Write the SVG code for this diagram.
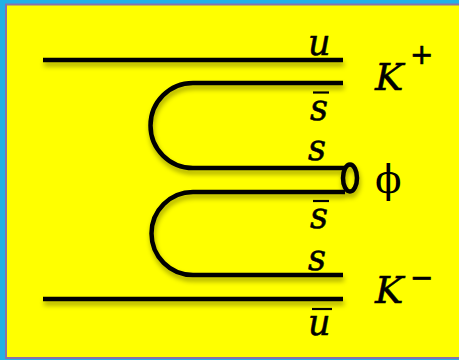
<svg xmlns="http://www.w3.org/2000/svg" width="459" height="360" viewBox="0 0 459 360">
<defs>
<filter id="sh" x="-10%" y="-50%" width="120%" height="200%">
<feDropShadow dx="1" dy="4" stdDeviation="2.5" flood-color="#000" flood-opacity="0.35"/>
</filter>
</defs>
<style>
.q{fill:none;stroke:#000;stroke-width:4.5;stroke-linecap:butt}
.m{font-family:"DejaVu Serif","Liberation Serif",serif;font-style:italic;font-size:35px;fill:#000;stroke:#000;stroke-width:0.5}
.k{font-size:38px}
.up{font-family:"DejaVu Sans","Liberation Sans",sans-serif;font-size:28px;fill:#000;stroke:#000;stroke-width:0.6}
.phi{font-family:"DejaVu Serif","Liberation Serif",serif;font-size:39px;fill:#000}
</style>
<rect x="0" y="0" width="459" height="360" fill="#22b0e6"/>
<rect x="6" y="4.5" width="460" height="353.5" fill="#ffff00" stroke="#8a72a8" stroke-width="2"/>
<g id="connectors" filter="url(#sh)">
<path class="q" d="M43 60H343"/>
<path class="q" d="M343 83H193A42.5 42.5 0 0 0 193 168H345"/>
<path class="q" d="M345 192H193A41.5 41.5 0 0 0 193 275H343"/>
<path class="q" d="M43 299H343"/>
<ellipse class="q" cx="350" cy="178" rx="7" ry="13.5" fill="#ffff00"/>
</g>
<g id="quark-labels">
<text class="m" x="308" y="55">u</text>
<text class="m" x="310" y="120">s</text>
<path d="M313 92.5H329" stroke="#000" stroke-width="2.2"/>
<text class="m" x="308" y="160">s</text>
<text class="m" x="310" y="228">s</text>
<path d="M313 201H329" stroke="#000" stroke-width="2.2"/>
<text class="m" x="308" y="270">s</text>
<text class="m" x="308" y="335">u</text>
<path d="M312 309H332" stroke="#000" stroke-width="2.2"/>
</g>
<g id="node-Kplus">
<text class="m k" x="375" y="90">K</text>
<text class="up" x="410" y="64">+</text>
</g>
<g id="node-phi">
<text class="phi" x="375" y="193">ϕ</text>
</g>
<g id="node-Kminus">
<text class="m k" x="375" y="303">K</text>
<text class="up" x="410" y="287">−</text>
</g>
</svg>
